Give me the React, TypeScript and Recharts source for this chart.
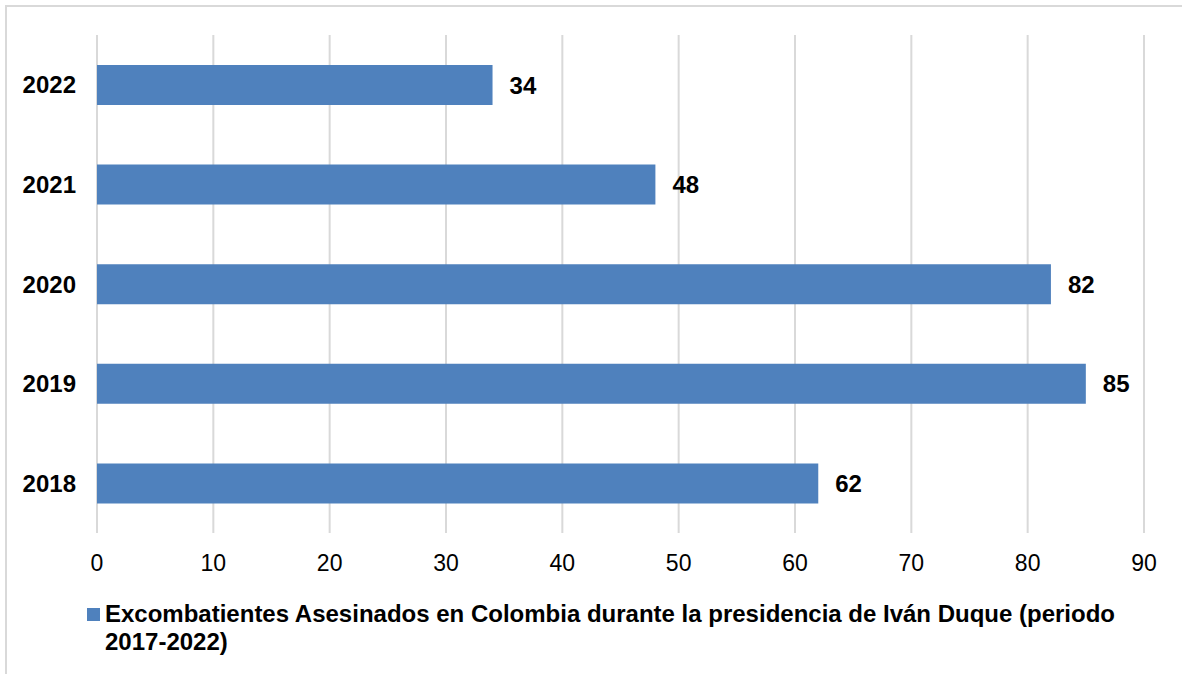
import React from 'react';
import { BarChart, Bar, XAxis, YAxis, CartesianGrid, Legend, LabelList } from 'recharts';

// años de arriba hacia abajo, como en la figura
const years = ['2022', '2021', '2020', '2019', '2018'];
const killed = [34, 48, 82, 85, 62];
const xTicks = [0, 10, 20, 30, 40, 50, 60, 70, 80, 90];
const seriesName =
  'Excombatientes Asesinados en Colombia durante la presidencia de Iván Duque (periodo';
const seriesPeriod = '2017-2022)';

const data = years.map((year, i) => ({ year, value: killed[i] }));

const FONT = '"Liberation Sans", Arial, sans-serif';
const BLUE = '#4F81BD';

function LegendBox() {
  return (
    <div
      style={{
        display: 'flex',
        alignItems: 'flex-start',
        width: 1070,
        fontFamily: FONT,
        fontWeight: 'bold',
        fontSize: 24,
        lineHeight: '28px',
        color: '#000',
        textAlign: 'left',
      }}
    >
      <span
        style={{
          display: 'inline-block',
          width: 13,
          height: 13,
          background: BLUE,
          marginTop: 8,
          marginRight: 5,
          flex: 'none',
        }}
      />
      <span>
        {seriesName} <span style={{ whiteSpace: 'nowrap' }}>{seriesPeriod}</span>
      </span>
    </div>
  );
}

export default function App() {
  return (
    <div
      style={{
        position: 'fixed',
        left: 0,
        top: 0,
        width: 1182,
        height: 674,
        overflow: 'hidden',
        background: '#fff',
      }}
    >
      <div
        style={{
          position: 'absolute',
          left: 5,
          top: 5,
          width: 1220,
          height: 720,
          border: '2px solid #D9D9D9',
        }}
      />
      <BarChart
        width={1182}
        height={674}
        data={data}
        layout="vertical"
        margin={{ top: 35, right: 38, bottom: 111, left: 0 }}
        style={{ position: 'absolute', left: 0, top: 0 }}
      >
        <CartesianGrid horizontal={false} stroke="#D9D9D9" strokeWidth={2} />
        <XAxis
          type="number"
          domain={[0, 90]}
          ticks={xTicks}
          height={30}
          axisLine={false}
          tickLine={false}
          tickSize={0}
          tickMargin={22}
          tick={{ fill: '#000', fontSize: 23, fontFamily: FONT }}
        />
        <YAxis
          type="category"
          dataKey="year"
          width={97}
          axisLine={false}
          tickLine={false}
          tickSize={0}
          tickMargin={21}
          tick={{ fill: '#000', fontSize: 24, fontWeight: 'bold', fontFamily: FONT }}
        />
        <Legend
          layout="horizontal"
          verticalAlign="middle"
          align="center"
          content={() => <LegendBox />}
          wrapperStyle={{ left: 87, top: 600, width: 1070 }}
        />
        <Bar
          dataKey="value"
          name={`${seriesName} ${seriesPeriod}`}
          fill={BLUE}
          barSize={40}
          isAnimationActive={false}
        >
          <LabelList
            dataKey="value"
            position="right"
            offset={17}
            style={{ fill: '#000', fontSize: 24, fontWeight: 'bold', fontFamily: FONT }}
          />
        </Bar>
      </BarChart>
    </div>
  );
}
